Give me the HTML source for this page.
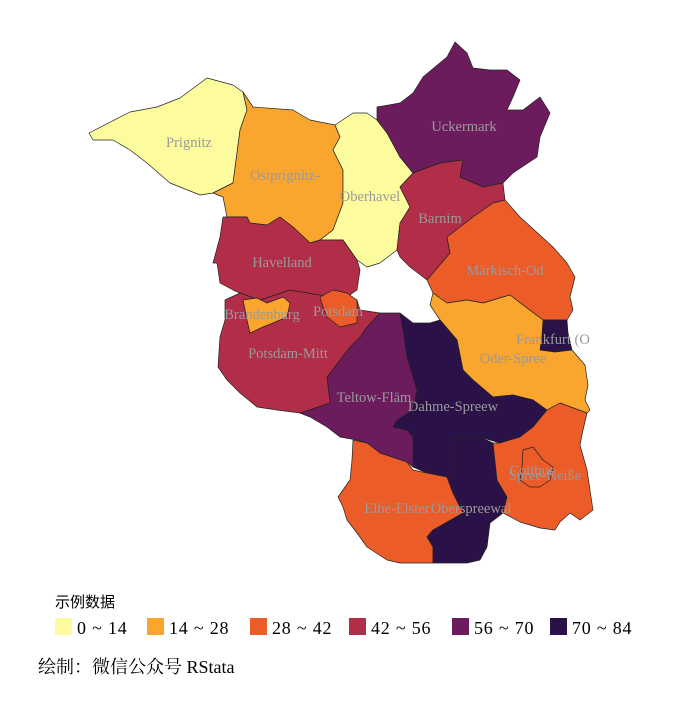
<!DOCTYPE html>
<html><head><meta charset="utf-8">
<style>
body{margin:0;background:#fff;width:683px;height:714px;overflow:hidden;font-family:"Liberation Serif","Noto Serif CJK SC",serif}
svg{position:absolute;left:0;top:0}
</style></head>
<body>
<svg id="map" width="683" height="714" viewBox="0 0 683 714"></svg>
<script>
const districts=["Prignitz","Ostprignitz-","Oberhavel","Uckermark","Barnim","Märkisch-Od","Frankfurt (O","Oder-Spree","Dahme-Spreew","Teltow-Fläm","Potsdam-Mitt","Havelland","Potsdam","Brandenburg","Elbe-Elster","Oberspreewal","Spree-Neiße","Cottbus"];
const values=[7,21,10,63,49,35,77,22,80,60,48,50,33,20,36,78,38,31];
const binLabels=["0 ~ 14","14 ~ 28","28 ~ 42","42 ~ 56","56 ~ 70","70 ~ 84"];
const binEdges=[0,14,28,42,56,70,84];
const palette=["#FCFC9F","#F9A52E","#EC5C29","#B22D48","#6C1C5D","#2A1248"];
const shapes={
"Prignitz":[[89,133],[130,112],[157,107],[180,98],[207,78],[233,85],[243,92],[247,110],[240,130],[237,153],[233,183],[213,193],[200,195],[170,183],[147,163],[130,150],[113,140],[93,140]],
"Ostprignitz-":[[243,92],[253,107],[293,110],[310,120],[335,125],[340,137],[333,150],[343,170],[343,203],[333,230],[320,240],[310,243],[293,227],[280,217],[267,225],[250,223],[247,217],[227,217],[223,197],[213,193],[233,183],[237,153],[240,130],[247,110]],
"Oberhavel":[[335,125],[353,113],[367,113],[377,120],[387,133],[400,157],[413,173],[400,187],[410,207],[400,223],[397,250],[380,263],[367,267],[357,260],[343,240],[320,240],[333,230],[343,203],[343,170],[333,150],[340,137]],
"Uckermark":[[377,120],[377,107],[400,103],[413,93],[423,77],[447,57],[455,42],[467,53],[473,68],[490,70],[507,70],[520,80],[513,97],[507,110],[523,110],[540,97],[550,113],[540,137],[537,157],[513,173],[503,183],[483,187],[460,177],[463,160],[440,163],[413,173],[400,157],[387,133]],
"Barnim":[[413,173],[440,163],[463,160],[460,177],[483,187],[503,183],[505,200],[493,203],[473,217],[447,237],[450,253],[427,280],[410,267],[400,257],[397,250],[400,223],[410,207],[400,187]],
"Märkisch-Od":[[505,200],[520,217],[553,247],[567,263],[575,277],[570,297],[573,310],[567,320],[543,320],[523,305],[510,295],[483,303],[467,300],[447,303],[433,293],[427,280],[450,253],[447,237],[473,217],[493,203]],
"Frankfurt (O":[[543,320],[567,320],[568,333],[572,350],[555,352],[540,350],[542,335]],
"Oder-Spree":[[433,293],[447,303],[467,300],[483,303],[510,295],[523,305],[543,320],[542,335],[540,350],[555,352],[572,350],[585,365],[588,385],[585,400],[590,410],[587,413],[560,403],[547,410],[533,400],[513,395],[493,397],[473,380],[463,370],[457,340],[440,320],[430,305]],
"Dahme-Spreew":[[400,313],[413,323],[430,323],[440,320],[457,340],[463,370],[473,380],[493,397],[513,395],[533,400],[547,410],[533,427],[520,437],[500,443],[480,437],[457,437],[453,447],[453,473],[447,477],[427,473],[413,467],[413,437],[407,430],[393,427],[397,420],[413,410],[417,390],[407,357],[403,330]],
"Teltow-Fläm":[[380,313],[400,313],[403,330],[407,357],[417,390],[413,410],[397,420],[393,427],[407,430],[413,437],[413,467],[407,462],[380,453],[367,443],[357,440],[340,437],[327,427],[310,417],[300,413],[330,403],[327,377],[350,347],[360,337],[367,327]],
"Potsdam-Mitt":[[225,300],[240,293],[260,300],[290,290],[320,295],[340,290],[357,300],[360,310],[380,313],[367,327],[360,337],[350,347],[327,377],[330,403],[300,413],[277,410],[257,407],[240,393],[227,380],[218,367],[220,337],[225,320]],
"Havelland":[[223,217],[247,217],[250,223],[267,225],[280,217],[293,227],[310,243],[320,240],[343,240],[357,260],[360,270],[357,290],[347,297],[320,295],[290,290],[260,300],[240,293],[233,290],[220,283],[217,263],[213,263],[220,237]],
"Potsdam":[[320,297],[333,290],[347,293],[357,300],[357,323],[340,327],[327,317],[323,307]],
"Brandenburg":[[243,300],[257,298],[267,303],[283,297],[290,303],[287,317],[273,323],[263,327],[250,333],[247,320]],
"Elbe-Elster":[[353,440],[367,443],[380,453],[407,462],[413,470],[427,473],[447,477],[453,493],[463,513],[433,530],[427,537],[433,547],[433,563],[400,563],[387,560],[367,547],[357,533],[347,520],[343,507],[338,497],[350,480],[352,460]],
"Oberspreewal":[[457,437],[480,437],[493,443],[497,480],[507,497],[503,513],[490,523],[487,547],[480,560],[467,563],[433,563],[433,547],[427,537],[433,530],[463,513],[453,493],[447,477],[453,473],[453,447]],
"Spree-Neiße":[[493,443],[500,443],[520,437],[533,427],[547,410],[560,403],[587,413],[583,430],[580,445],[587,470],[590,490],[593,510],[580,520],[570,513],[560,522],[555,530],[540,528],[520,522],[503,513],[507,497],[497,480]],
"Cottbus":[[523,450],[533,447],[543,460],[553,467],[550,480],[540,487],[530,487],[520,480],[522,467]]
};
const labelPos={"Prignitz":[189,142],"Ostprignitz-":[285,175],"Oberhavel":[370,196],"Uckermark":[464,126],"Barnim":[440,218],"Havelland":[282,262],"Märkisch-Od":[505,270],"Brandenburg":[262,314],"Potsdam":[338,311],"Frankfurt (O":[553,339],"Oder-Spree":[513,358],"Potsdam-Mitt":[288,353],"Teltow-Fläm":[374,397],"Dahme-Spreew":[453,406],"Cottbus":[532,470],"Spree-Neiße":[545,475],"Elbe-Elster":[397,508],"Oberspreewal":[471,508]};
const NS="http://www.w3.org/2000/svg";
const svg=document.getElementById('map');
function colorFor(v){for(let i=0;i<binEdges.length-1;i++){if(v<=binEdges[i+1])return palette[i];}return palette[palette.length-1];}
districts.forEach((d,i)=>{
  const p=document.createElementNS(NS,'polygon');
  p.setAttribute('points',shapes[d].map(q=>q.join(',')).join(' '));
  p.setAttribute('fill',colorFor(values[i]));
  p.setAttribute('stroke','#222');p.setAttribute('stroke-width','0.7');p.setAttribute('stroke-linejoin','round');
  
  
  svg.appendChild(p);
});
districts.forEach(d=>{
  const t=document.createElementNS(NS,'text');
  t.setAttribute('x',labelPos[d][0]);t.setAttribute('y',labelPos[d][1]+5);
  t.setAttribute('text-anchor','middle');t.setAttribute('font-size','14.5');t.setAttribute('fill','#9a9a9a');
  t.textContent=d;
  
  
  svg.appendChild(t);
});
const lt=document.createElementNS(NS,'text');
lt.setAttribute('x',55);lt.setAttribute('y',607);lt.setAttribute('font-size','15');lt.setAttribute('font-family','"Liberation Sans","Noto Sans CJK SC",sans-serif');
lt.textContent='示例数据';


svg.appendChild(lt);
const lx=[55,147,250,349,452,550];
binLabels.forEach((b,i)=>{
  const r=document.createElementNS(NS,'rect');
  r.setAttribute('x',lx[i]);r.setAttribute('y',618);r.setAttribute('width',17);r.setAttribute('height',17);r.setAttribute('fill',palette[i]);
  
  
  svg.appendChild(r);
  const t=document.createElementNS(NS,'text');
  t.setAttribute('x',lx[i]+22);t.setAttribute('y',634);t.setAttribute('font-size','18');t.setAttribute('letter-spacing','0.8');
  t.textContent=b;
  
  
  svg.appendChild(t);
});
const cap=document.createElementNS(NS,'text');
cap.setAttribute('x',38);cap.setAttribute('y',673);cap.setAttribute('font-size','18');
cap.textContent='绘制：微信公众号 RStata';


svg.appendChild(cap);
</script>
</body></html>
